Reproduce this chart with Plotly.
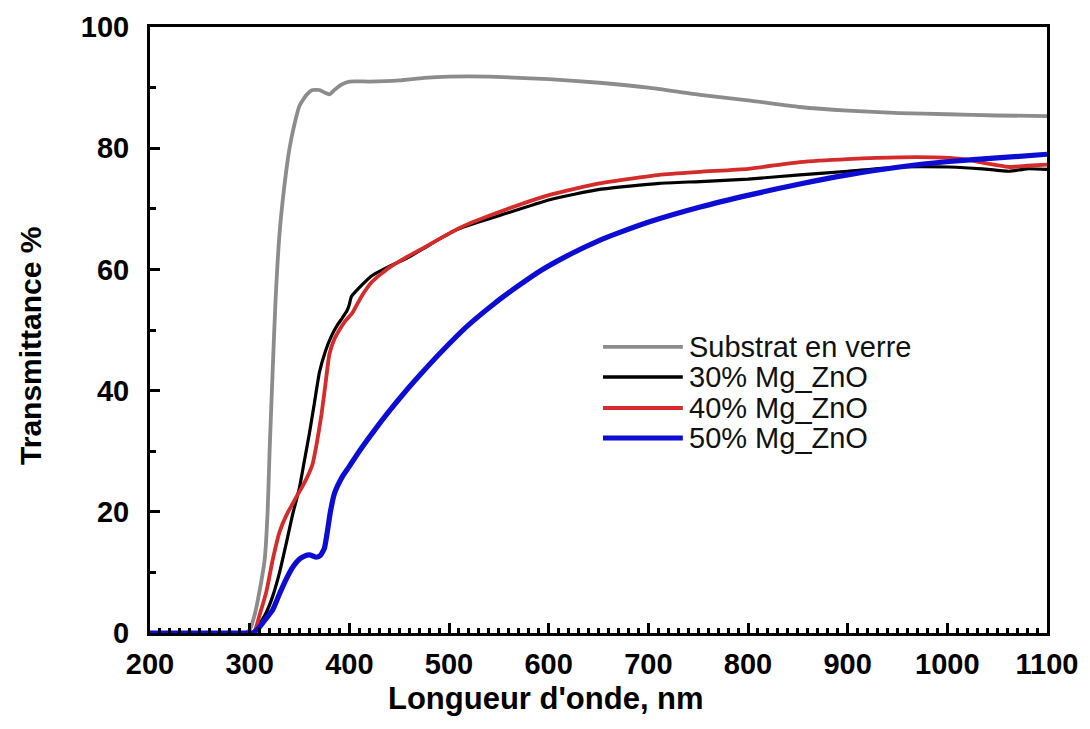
import plotly.graph_objects as go

# Transmittance spectra (wavelength in nm, transmittance in %)
wl_glass = [200, 250, 295, 300, 305, 310, 315, 318, 320, 323, 326, 330, 335, 340, 345,
            350, 357, 363, 370, 375, 380, 385, 392, 400, 420, 450, 475, 500, 540, 600,
            651, 700, 752, 800, 852, 900, 952, 1000, 1050, 1100]
t_glass = [0, 0, 0, 0.5, 3, 7, 12, 20, 30, 43, 55, 66, 74, 80, 84,
           87, 88.8, 89.6, 89.6, 89.2, 88.9, 89.6, 90.5, 91.0, 91.0, 91.2, 91.6, 91.8, 91.8, 91.4,
           90.8, 90.0, 88.8, 87.9, 86.8, 86.2, 85.8, 85.6, 85.4, 85.3]

wl_30 = [200, 295, 303, 310, 317, 323, 330, 337, 343, 350, 355, 360, 365, 370, 376,
         382, 388, 393, 398, 400, 402, 410, 423, 440, 457, 475, 490, 510, 551, 601,
         651, 711, 752, 800, 852, 900, 952, 1002, 1035, 1062, 1080, 1100]
t_30 = [0, 0, 0, 1.5, 3.5, 6, 10, 15, 19.5, 24, 28.5, 33, 38, 43, 46.5,
        49, 50.8, 52, 53.3, 54.2, 55.5, 57, 59, 60.5, 61.8, 63.5, 65, 66.7, 68.9, 71.5,
        73.2, 74.2, 74.5, 74.9, 75.6, 76.2, 76.9, 76.9, 76.6, 76.2, 76.6, 76.5]

wl_40 = [200, 295, 304, 310, 317, 323, 330, 337, 343, 348, 353, 358, 363, 367, 372,
         376, 380, 385, 390, 396, 403, 412, 423, 440, 457, 475, 490, 501, 510, 551,
         601, 651, 711, 752, 800, 852, 900, 952, 1002, 1020, 1035, 1062, 1080, 1100]
t_40 = [0, 0, 0, 3, 7, 12, 16.7, 19.5, 21.3, 22.8, 24.2, 25.8, 27.8, 31, 36,
        41, 46, 48.5, 50, 51.5, 52.8, 55.5, 58, 60.3, 62, 63.6, 65, 66, 66.8, 69.5,
        72.3, 74.2, 75.6, 76.1, 76.6, 77.7, 78.2, 78.5, 78.4, 78.1, 77.6, 76.9, 77.1, 77.3]

wl_50 = [200, 295, 303, 310, 317, 323, 330, 337, 343, 350, 355, 360, 367, 371, 375,
         378, 381, 385, 393, 400, 410, 425, 440, 455, 471, 490, 518, 545, 568, 593,
         618, 651, 668, 702, 752, 802, 852, 900, 952, 1002, 1050, 1100]
t_50 = [0, 0, 0, 1, 2.5, 3.8, 6.5, 9, 10.8, 12.2, 12.7, 12.9, 12.5, 12.8, 14,
        16.8, 20, 23, 25.8, 27.5, 30.0, 33.4, 36.6, 39.6, 42.6, 46.0, 50.6, 54.3, 57.1, 59.9,
        62.2, 64.8, 65.9, 67.9, 70.3, 72.3, 74.1, 75.6, 76.9, 77.8, 78.4, 79.0]

names = ["Substrat en verre", "30% Mg_ZnO", "40% Mg_ZnO", "50% Mg_ZnO"]
colors = ["#8c8c8c", "#000000", "#d42b2b", "#0c0cd2"]
widths = [3.8, 3.2, 3.8, 5.2]
series = [(wl_glass, t_glass), (wl_30, t_30), (wl_40, t_40), (wl_50, t_50)]

FONT = "Arial, Liberation Sans, sans-serif"

fig = go.Figure()
for (x, y), name, c, w in zip(series, names, colors, widths):
    fig.add_trace(go.Scatter(x=x, y=y, mode="lines", name=name,
                             line=dict(color=c, width=w, shape="spline", smoothing=0.5),
                             showlegend=False))

# Hand-placed legend: long sample lines with labels to their right
leg_y = [0.472, 0.4224, 0.3713, 0.3218]
for name, c, w, yy in zip(names, colors, widths, leg_y):
    fig.add_shape(type="line", xref="paper", yref="paper",
                  x0=0.505, x1=0.594, y0=yy, y1=yy,
                  line=dict(color=c, width=max(w, 3.5)))
    fig.add_annotation(xref="paper", yref="paper", x=0.599, y=yy,
                       text=name, showarrow=False, xanchor="left", yanchor="middle",
                       font=dict(family=FONT, size=29, color="#111111"))

# Axis titles
fig.add_annotation(xref="paper", yref="paper", x=0.4415, y=-0.108,
                   text="Longueur d'onde, nm", showarrow=False,
                   xanchor="center", yanchor="middle",
                   font=dict(family=FONT, size=31, color="black", weight="bold"))
fig.add_annotation(xref="paper", yref="paper", x=-0.1327, y=0.4736,
                   text="Transmittance %", showarrow=False, textangle=-90,
                   xanchor="center", yanchor="middle",
                   font=dict(family=FONT, size=30, color="black", weight="bold"))

axis_common = dict(
    showline=True, linecolor="black", linewidth=3, mirror=True,
    ticks="inside", tickcolor="black", ticklen=10, tickwidth=3,
    showgrid=False, zeroline=False,
    tickfont=dict(family=FONT, size=29, color="black", weight="bold"),
)

fig.update_xaxes(range=[200, 1100], tick0=200, dtick=100,
                 minor=dict(ticks="inside", dtick=10, ticklen=5, tickwidth=2.5, tickcolor="black"),
                 ticklabelstandoff=3, **axis_common)
fig.update_yaxes(range=[0, 100], tick0=0, dtick=20,
                 minor=dict(ticks="inside", dtick=10, ticklen=6, tickwidth=2.5, tickcolor="black"),
                 ticklabelstandoff=12, **axis_common)

fig.update_layout(
    width=1090, height=729,
    margin=dict(l=150, r=43, t=27, b=96),
    paper_bgcolor="white", plot_bgcolor="white",
)

fig.write_html("out.html")
